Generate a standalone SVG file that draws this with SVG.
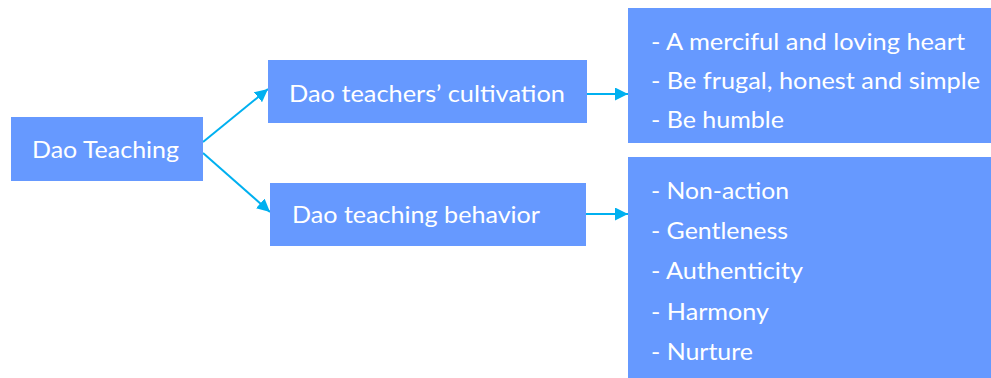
<svg xmlns="http://www.w3.org/2000/svg" width="991" height="378" viewBox="0 0 991 378">
<style>
.box{fill:#6699FF;}
.t{font-family:Lato,"Open Sans","Liberation Sans",sans-serif;font-size:24px;fill:#FFFFFF;}
.c{stroke:#00B0F0;stroke-width:2;fill:none;}
</style>
<defs>
<marker id="ah" viewBox="0 0 10 10" refX="10" refY="5" markerWidth="13" markerHeight="13" markerUnits="userSpaceOnUse" orient="auto">
<path d="M0,0 L10,5 L0,10 z" fill="#00B0F0"/>
</marker>
</defs>
<rect width="991" height="378" fill="#FFFFFF"/>
<g id="connectors">
<line class="c" x1="203" y1="142" x2="268" y2="89" marker-end="url(#ah)"/>
<line class="c" x1="203" y1="153" x2="270" y2="212" marker-end="url(#ah)"/>
<line class="c" x1="587" y1="94" x2="628" y2="94" marker-end="url(#ah)"/>
<line class="c" x1="586" y1="214" x2="628" y2="214" marker-end="url(#ah)"/>
</g>
<g id="dao-teaching">
<rect class="box" x="11" y="117" width="192" height="64"/>
<text class="t" x="32" y="158" textLength="147" lengthAdjust="spacingAndGlyphs">Dao Teaching</text>
</g>
<g id="teachers-cultivation">
<rect class="box" x="268" y="60" width="319" height="63"/>
<text class="t" x="289" y="102" textLength="276" lengthAdjust="spacingAndGlyphs">Dao teachers’ cultivation</text>
</g>
<g id="teaching-behavior">
<rect class="box" x="270" y="183" width="316" height="63"/>
<text class="t" x="292" y="223" textLength="248" lengthAdjust="spacingAndGlyphs">Dao teaching behavior</text>
</g>
<g id="cultivation-list">
<rect class="box" x="628" y="8" width="363" height="135"/>
<text class="t" x="651" y="50" textLength="314" lengthAdjust="spacingAndGlyphs">- A merciful and loving heart</text>
<text class="t" x="651" y="89" textLength="329" lengthAdjust="spacingAndGlyphs">- Be frugal, honest and simple</text>
<text class="t" x="651" y="128" textLength="133" lengthAdjust="spacingAndGlyphs">- Be humble</text>
</g>
<g id="behavior-list">
<rect class="box" x="628" y="157" width="363" height="221"/>
<text class="t" x="651" y="199" textLength="138" lengthAdjust="spacingAndGlyphs">- Non-action</text>
<text class="t" x="651" y="239" textLength="137" lengthAdjust="spacingAndGlyphs">- Gentleness</text>
<text class="t" x="651" y="279" textLength="152" lengthAdjust="spacingAndGlyphs">- Authenticity</text>
<text class="t" x="651" y="320" textLength="118" lengthAdjust="spacingAndGlyphs">- Harmony</text>
<text class="t" x="651" y="360" textLength="102" lengthAdjust="spacingAndGlyphs">- Nurture</text>
</g>
</svg>
